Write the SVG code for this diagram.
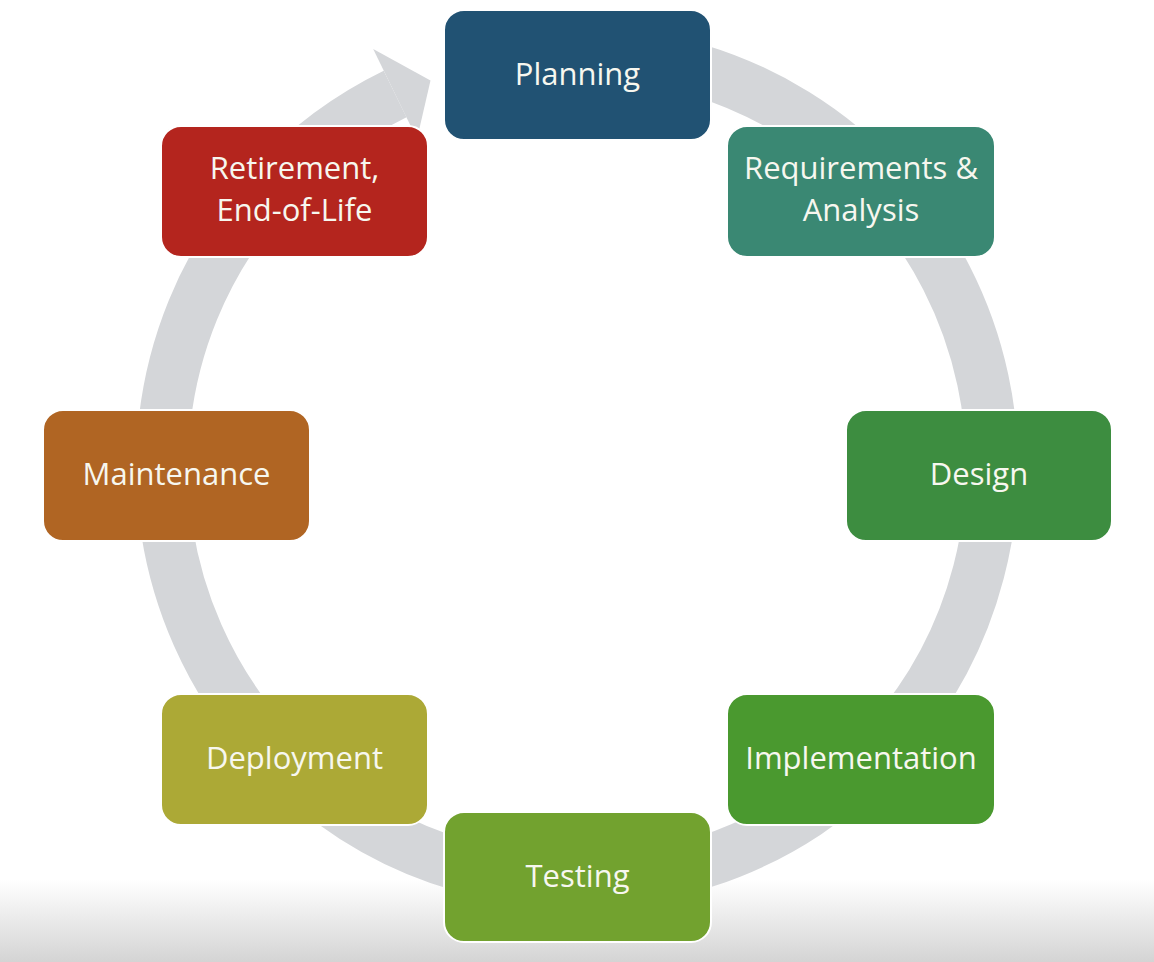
<svg xmlns="http://www.w3.org/2000/svg" width="1154" height="962" viewBox="0 0 1154 962">
  <defs>
    <linearGradient id="floor" x1="0" y1="0" x2="0" y2="1">
      <stop offset="0" stop-color="#ffffff"/>
      <stop offset="1" stop-color="#d4d4d4"/>
    </linearGradient>
    <style>
      .box { stroke: #ffffff; stroke-width: 2; }
      .lbl { font-family: "Open Sans", "Noto Sans", sans-serif; font-size: 31px; fill: #f7f7ef; text-anchor: middle; }
      .ring { fill: none; stroke: #d4d6d9; stroke-width: 52; }
      .head { fill: #d4d6d9; }
    </style>
  </defs>
  <rect x="0" y="0" width="1154" height="962" fill="#ffffff"/>
  <rect x="0" y="880" width="1154" height="82" fill="url(#floor)"/>

  <g id="connectors">
    <path class="ring" d="M504.9,58.3 A415,415 0 1 1 395.1,94.0"/>
    <polygon class="head" points="373.2,49.1 430.5,80.5 417,139"/>
  </g>

  <g id="planning">
    <rect class="box" x="444" y="10" width="267" height="130" rx="20" fill="#215273"/>
    <text class="lbl" x="577.5" y="85">Planning</text>
  </g>
  <g id="requirements">
    <rect class="box" x="727" y="126" width="268" height="131" rx="20" fill="#3a8873"/>
    <text class="lbl" x="861" y="179">Requirements &amp;</text>
    <text class="lbl" x="861" y="221">Analysis</text>
  </g>
  <g id="design">
    <rect class="box" x="846" y="410" width="266" height="131" rx="20" fill="#3d8d40"/>
    <text class="lbl" x="979" y="485">Design</text>
  </g>
  <g id="implementation">
    <rect class="box" x="727" y="694" width="268" height="131" rx="20" fill="#4a992f"/>
    <text class="lbl" x="861" y="769">Implementation</text>
  </g>
  <g id="testing">
    <rect class="box" x="444" y="812" width="267" height="130" rx="20" fill="#72a22f"/>
    <text class="lbl" x="577.5" y="887">Testing</text>
  </g>
  <g id="deployment">
    <rect class="box" x="161" y="694" width="267" height="131" rx="20" fill="#aca936"/>
    <text class="lbl" x="294.5" y="769">Deployment</text>
  </g>
  <g id="maintenance">
    <rect class="box" x="43" y="410" width="267" height="131" rx="20" fill="#b06523"/>
    <text class="lbl" x="176.5" y="485">Maintenance</text>
  </g>
  <g id="retirement">
    <rect class="box" x="161" y="126" width="267" height="131" rx="20" fill="#b4251e"/>
    <text class="lbl" x="294.5" y="179">Retirement,</text>
    <text class="lbl" x="294.5" y="221">End-of-Life</text>
  </g>
</svg>
